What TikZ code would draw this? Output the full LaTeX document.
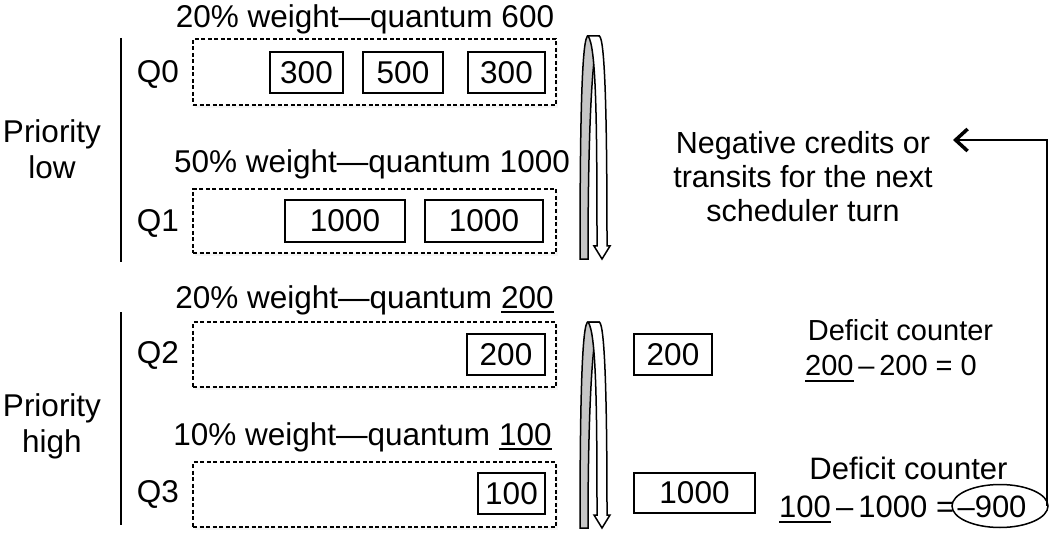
\documentclass[tikz,border=0pt]{standalone}
\usepackage{fontspec}
\setmainfont{Liberation Sans}
\usetikzlibrary{arrows.meta,shapes.geometric,shadows}
\newcommand\fsz{\fontsize{31.5}{36}\selectfont}
\newcommand\fszb{\fontsize{30.5}{34}\selectfont}
\newcommand\fszc{\fontsize{29}{34}\selectfont}
\newcommand\fszd{\fontsize{31}{34}\selectfont}
\newcommand\myul[2][-5pt]{\setbox0\hbox{#2}\rlap{\rule[#1]{\wd0}{1.8pt}}\box0\relax}
\newcommand\uturnarrow[2]{%
  \draw[line width=1.5pt, fill=gray!45]
    (580,#2) .. controls (580,#1+80) and (582,#1) .. (588,#1) -- (599,#1)
    .. controls (593,#1+10) and (588,#1+80) .. (588,#2) -- cycle;
  \draw[line width=1.5pt, fill=white, line join=miter]
    (588,#1) .. controls (596,#1+10) and (597,#1+80) .. (597,#2-13)
    -- (594,#2-13) -- (602,#2) -- (610,#2-13) -- (607,#2-13)
    .. controls (607,#1+80) and (605,#1) .. (599,#1) -- cycle;
}
\tikzset{
  txt/.style={font=\fsz, inner sep=0pt},
  dbox/.style={draw, fill=white, line width=1.4pt, dash pattern=on 4pt off 2.5pt,
    minimum width=363pt, minimum height=65pt, inner sep=0pt,
    drop shadow={shadow xshift=2pt, shadow yshift=-3pt, fill=black!8}},
  pkt/.style={draw, fill=white, line width=2pt, minimum height=41pt, inner sep=0pt, font=\fsz},
  vbar/.style={line width=2.5pt},
}
\begin{document}
\begin{tikzpicture}[x=1pt,y=-1pt]
\useasboundingbox (0,0) rectangle (1051,537);

% priority labels and bars
\node[txt, align=center] (plow) at (52,149.5) {Priority\\[0pt]low};
\node[txt, align=center] (phigh) at (52,426) {Priority\\[0pt]high};
\draw[vbar] (121,38) -- (121,262);
\draw[vbar] (121,312) -- (121,525);

% Q0
\node[txt, anchor=base] (w0) at (365,28) {20\% weight—quantum 600};
\node[txt] (q0) at (158,74) {Q0};
\node[dbox, minimum height=66pt] (b0) at (374.5,72) {};
\node[pkt, minimum width=73pt] (p00) at (306.5,73) {300};
\node[pkt, minimum width=80pt] (p01) at (403,73) {500};
\node[pkt, minimum width=77pt] (p02) at (506.5,73) {300};

% Q1
\node[txt, anchor=base] (w1) at (372,173) {50\% weight—quantum 1000};
\node[txt] (q1) at (158,223) {Q1};
\node[dbox, minimum height=64pt] (b1) at (374.5,221) {};
\node[pkt, minimum width=120pt, minimum height=42pt] (p10) at (345,221) {1000};
\node[pkt, minimum width=118pt, minimum height=42pt] (p11) at (484,221) {1000};

% Q2
\node[txt, anchor=base] (w2) at (364.5,308) {20\% weight—quantum \myul[-4.5pt]{200}};
\node[txt] (q2) at (158,355) {Q2};
\node[dbox] (b2) at (374.5,354.5) {};
\node[pkt, minimum width=78pt] (p20) at (506,354.5) {200};

% Q3
\node[txt, anchor=base] (w3) at (362.5,445) {10\% weight—quantum \myul[-4.5pt]{100}};
\node[txt] (q3) at (158,494) {Q3};
\node[dbox] (b3) at (374.5,494.5) {};
\node[pkt, minimum width=67pt] (p30) at (511.5,493.5) {100};

% scheduler u-turn arrows
\uturnarrow{36}{259}
\uturnarrow{322}{528}

% dequeued packets
\node[pkt, minimum width=78pt] (o2) at (673,354.5) {200};
\node[pkt, minimum width=121pt, minimum height=40pt] (o3) at (694.5,493) {1000};

% right texts
\node[inner sep=0pt, font=\fszb, align=center] (nc) at (803,177)
  {Negative credits or\\transits for the next\\scheduler turn};
\node[font=\fszc, inner sep=0pt, anchor=base] (dc1) at (900.5,340) {Deficit counter};
\node[font=\fszc, inner sep=0pt, anchor=base] (eq1) at (891,375) {\myul[-6.5pt]{200}\,–\,200 = 0};
\node[font=\fszd, inner sep=0pt, anchor=base] (dc2) at (908.5,479) {Deficit counter};
\node[font=\fszd, inner sep=0pt, anchor=base west] (eq2) at (779,517) {\myul[-6pt]{100}\,–\,1000 =};
\node[font=\fszd, inner sep=0pt, anchor=base] (neg) at (992,517) {–900};
\node[draw, ellipse, line width=1.5pt, minimum width=96pt, minimum height=43pt, inner sep=0pt] (ell) at (1000,506) {};
\coordinate (tip) at (953,140);
\draw[line width=2.2pt, -{Straight Barb[length=12pt,width=22pt,line width=3.5pt]}]
  ([xshift=-2pt]ell.east) |- (tip);
\end{tikzpicture}
\end{document}
